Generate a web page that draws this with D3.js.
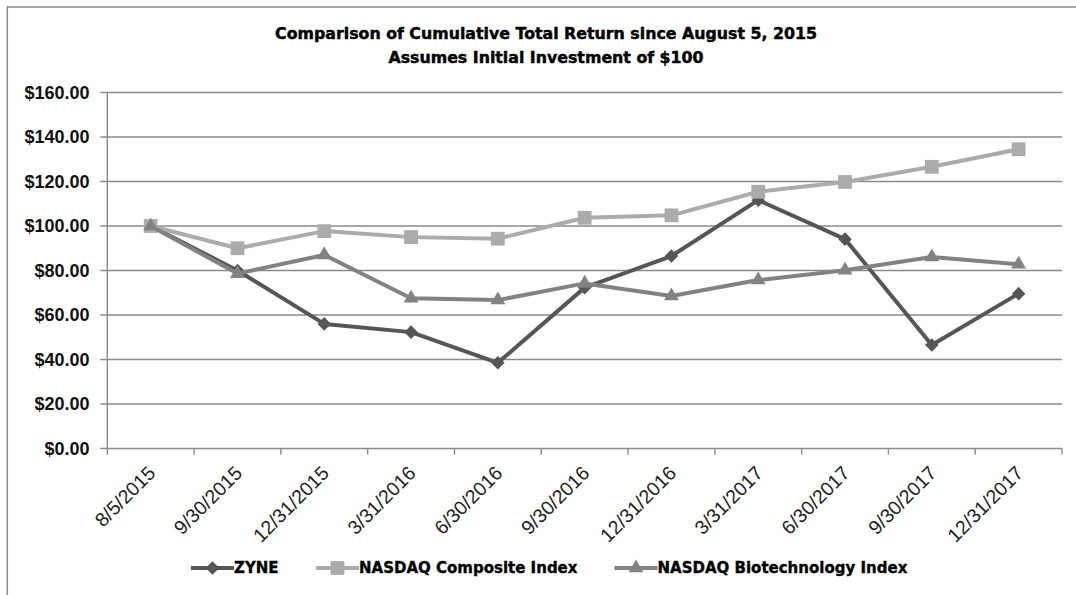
<!DOCTYPE html>
<html lang="en">
<head>
<meta charset="utf-8">
<script src="https://cdn.jsdelivr.net/npm/d3@7"></script>
<style type="text/css">
    body { margin: 0; background: #fff; }
    .grid line { stroke: #8a8a8a; stroke-width: 1.4; }
    .axis path, .axis line { fill: none; stroke: #8a8a8a; stroke-width: 1.4; }
    .ylab { font-family: "Liberation Sans", sans-serif; font-weight: bold; font-size: 18px; fill: #111; }
    .xlab { font-family: "Liberation Sans", sans-serif; font-size: 19.5px; fill: #222; }
    .title { font-family: "DejaVu Sans", sans-serif; font-weight: bold; font-size: 15.8px; fill: #000; stroke: #000; stroke-width: 0.45px; }
    .legend text { font-family: "DejaVu Sans", sans-serif; font-weight: bold; font-size: 15px; fill: #000; stroke: #000; stroke-width: 0.35px; }
</style>
</head>
<body>
<script>
const dates = ["8/5/2015", "9/30/2015", "12/31/2015", "3/31/2016", "6/30/2016", "9/30/2016",
               "12/31/2016", "3/31/2017", "6/30/2017", "9/30/2017", "12/31/2017"];
const zyne = [100, 80, 56, 52.3, 38.5, 72.3, 86.5, 111.6, 94.1, 46.5, 69.6];
const nasdaqComp = [100, 90, 97.7, 95, 94.3, 103.7, 104.8, 115.4, 119.8, 126.6, 134.5];
const nasdaqBio = [100, 78.6, 87, 67.5, 66.7, 74.2, 68.5, 75.7, 80.1, 86.1, 82.8];
const yTicks = [0, 20, 40, 60, 80, 100, 120, 140, 160];

const series = [
    {name: "ZYNE", values: zyne, color: "#565656", marker: "diamond"},
    {name: "NASDAQ Composite Index", values: nasdaqComp, color: "#ababab", marker: "square"},
    {name: "NASDAQ Biotechnology Index", values: nasdaqBio, color: "#828282", marker: "triangle"}
];

const w = 1076, h = 595;
const plotLeft = 107.3, plotRight = 1062, plotTop = 92.5, plotBottom = 448.5;

const svg = d3.select("body").append("svg")
    .attr("width", w)
    .attr("height", h);

svg.append("rect").attr("width", w).attr("height", h).attr("fill", "#fff");

// outer chart border (cut off at right / bottom in the original)
svg.append("rect")
    .attr("x", 7.3).attr("y", 7)
    .attr("width", w + 20).attr("height", h + 20)
    .attr("fill", "none")
    .attr("stroke", "#8a8a8a")
    .attr("stroke-width", 1.5);

const xScale = d3.scaleBand().domain(dates).range([plotLeft, plotRight]);
const yScale = d3.scaleLinear().domain([0, 160]).range([plotBottom, plotTop]);

// gridlines with little ticks left of the axis
svg.append("g").attr("class", "grid")
    .selectAll("line")
    .data(yTicks)
    .enter()
    .append("line")
    .attr("x1", plotLeft - 7)
    .attr("x2", plotRight)
    .attr("y1", (d) => yScale(d))
    .attr("y2", (d) => yScale(d));

svg.append("g").attr("class", "ylab")
    .selectAll("text")
    .data(yTicks)
    .enter()
    .append("text")
    .attr("x", 89.5)
    .attr("y", (d) => yScale(d))
    .attr("dy", "0.36em")
    .attr("text-anchor", "end")
    .text((d) => "$" + d.toFixed(2));

// y axis line
svg.append("line")
    .attr("x1", plotLeft).attr("x2", plotLeft)
    .attr("y1", plotTop).attr("y2", plotBottom)
    .attr("stroke", "#8a8a8a").attr("stroke-width", 1.4);

// x axis: ticks between categories
const tickPos = dates.map((d) => xScale(d)).concat([plotRight]);
svg.append("g").attr("class", "axis")
    .selectAll("line")
    .data(tickPos)
    .enter()
    .append("line")
    .attr("x1", (d) => d).attr("x2", (d) => d)
    .attr("y1", plotBottom).attr("y2", plotBottom + 6);

svg.append("g")
    .selectAll("text")
    .data(dates)
    .enter()
    .append("text")
    .attr("class", "xlab")
    .attr("transform", (d) => "translate(" + (xScale(d) + xScale.bandwidth() / 2 - 4) + "," + (plotBottom + 16) + ") rotate(-45)")
    .attr("text-anchor", "end")
    .attr("dy", "0.72em")
    .text((d) => d);

const symbolPath = (kind) => {
    if (kind === "diamond") return d3.symbol(d3.symbolSquare, 92)();
    if (kind === "square") return d3.symbol(d3.symbolSquare, 190)();
    return d3.symbol(d3.symbolTriangle, 95)();
};

const line = d3.line()
    .x((d, i) => xScale(dates[i]) + xScale.bandwidth() / 2)
    .y((d) => yScale(d));

series.forEach((s) => {
    const g = svg.append("g");
    g.append("path")
        .attr("d", line(s.values))
        .attr("fill", "none")
        .attr("stroke", s.color)
        .attr("stroke-width", 4)
        .attr("stroke-linejoin", "round");
    g.selectAll("path.m")
        .data(s.values)
        .enter()
        .append("path")
        .attr("class", "m")
        .attr("d", symbolPath(s.marker))
        .attr("fill", s.color)
        .attr("transform", (d, i) => "translate(" + (xScale(dates[i]) + xScale.bandwidth() / 2) + "," + yScale(d) + ")" + (s.marker === "diamond" ? " rotate(45)" : ""));
});

// title
svg.append("text").attr("class", "title")
    .attr("x", 546).attr("y", 39)
    .attr("text-anchor", "middle")
    .text("Comparison of Cumulative Total Return since August 5, 2015");
svg.append("text").attr("class", "title")
    .attr("x", 546).attr("y", 63)
    .attr("text-anchor", "middle")
    .text("Assumes Initial Investment of $100");

// legend
const legendX = [191, 316, 614.5];
const legendY = 568;
const legend = svg.append("g").attr("class", "legend");
series.forEach((s, i) => {
    const x0 = legendX[i];
    legend.append("line")
        .attr("x1", x0).attr("x2", x0 + 43)
        .attr("y1", legendY).attr("y2", legendY)
        .attr("stroke", s.color).attr("stroke-width", 4);
    legend.append("path")
        .attr("d", symbolPath(s.marker))
        .attr("fill", s.color)
        .attr("transform", "translate(" + (x0 + 21.5) + "," + legendY + ")" + (s.marker === "diamond" ? " rotate(45)" : ""));
    legend.append("text")
        .attr("x", x0 + 43).attr("y", legendY)
        .attr("dy", "0.36em")
        .text(s.name);
});
</script>
</body>
</html>
